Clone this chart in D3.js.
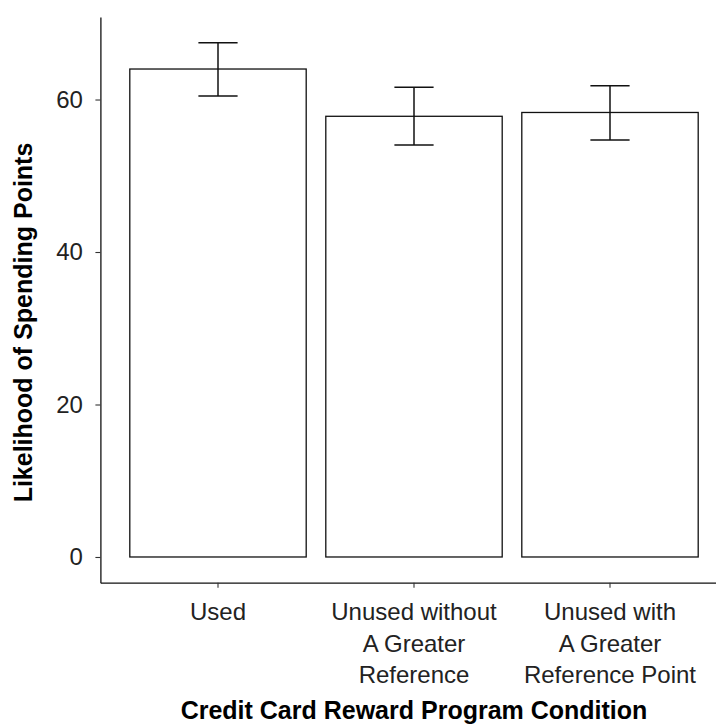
<!DOCTYPE html>
<html>
<head>
<meta charset="utf-8">
<script src="https://cdn.jsdelivr.net/npm/d3@7"></script>
<style>
  html, body { margin: 0; padding: 0; background: #fff; }
  svg { display: block; font-family: "Liberation Sans", Arial, Helvetica, sans-serif; }
</style>
</head>
<body>
<svg id="chart" width="716" height="727"></svg>
<script>
// Conditions (multi-line axis labels) and their mean ratings with error bounds
const categories = ["Used", "Unused without A Greater Reference", "Unused with A Greater Reference Point"];
const categoryLines = [["Used"], ["Unused without", "A Greater", "Reference"], ["Unused with", "A Greater", "Reference Point"]];
const means = [64.0, 57.8, 58.3];
const lowerBounds = [60.45, 54.05, 54.7];
const upperBounds = [67.45, 61.6, 61.8];
const yTicks = [0, 20, 40, 60];
const xTitle = "Credit Card Reward Program Condition";
const yTitle = "Likelihood of Spending Points";

const svg = d3.select("#chart");

// Panel extent (continuous axis padded 5% beyond the data range)
const panel = { left: 100.4, right: 727.6, top: 17, bottom: 582.7 };
const yMax = d3.max(upperBounds);
const pad = yMax * 0.05;

const x = d3.scaleBand()
  .domain(categories)
  .range([panel.left, panel.right])
  .paddingInner(0.1)
  .paddingOuter(0.15);

const y = d3.scaleLinear()
  .domain([-pad, yMax + pad])
  .range([panel.bottom, panel.top]);

const data = categories.map((c, i) => ({
  cat: c, lines: categoryLines[i], mean: means[i], lo: lowerBounds[i], hi: upperBounds[i]
}));

// Bars
svg.append("g").selectAll("rect").data(data).join("rect")
  .attr("x", d => x(d.cat))
  .attr("width", x.bandwidth())
  .attr("y", d => y(d.mean))
  .attr("height", d => y(0) - y(d.mean))
  .attr("fill", "#ffffff")
  .attr("stroke", "#111")
  .attr("stroke-width", 1.3);

// Error bars
const capHalf = x.step() * 0.1;
const eb = svg.append("g").attr("stroke", "#111").attr("stroke-width", 1.5).attr("fill", "none");
data.forEach(d => {
  const cx = x(d.cat) + x.bandwidth() / 2;
  eb.append("line").attr("x1", cx).attr("x2", cx).attr("y1", y(d.lo)).attr("y2", y(d.hi));
  eb.append("line").attr("x1", cx - capHalf).attr("x2", cx + capHalf).attr("y1", y(d.hi)).attr("y2", y(d.hi));
  eb.append("line").attr("x1", cx - capHalf).attr("x2", cx + capHalf).attr("y1", y(d.lo)).attr("y2", y(d.lo));
});

// Y axis
const yAxis = svg.append("g")
  .attr("transform", `translate(${panel.left},0)`)
  .call(d3.axisLeft(y).tickValues(yTicks).tickSize(5).tickPadding(12.5).tickSizeOuter(0));
yAxis.select(".domain").attr("stroke", "#111").attr("stroke-width", 1.3);
yAxis.selectAll(".tick line").attr("stroke", "#333").attr("stroke-width", 1.1);
yAxis.selectAll(".tick text")
  .attr("font-size", 24).attr("fill", "#222")
  .attr("font-family", "Liberation Sans, Arial, sans-serif");

// X axis
const xAxis = svg.append("g")
  .attr("transform", `translate(0,${panel.bottom})`)
  .call(d3.axisBottom(x).tickSize(5).tickSizeOuter(0).tickFormat(""));
xAxis.select(".domain").attr("stroke", "#111").attr("stroke-width", 1.3);
xAxis.selectAll(".tick line").attr("stroke", "#333").attr("stroke-width", 1.1);

// Multi-line category labels
const labels = svg.append("g");
data.forEach(d => {
  const cx = x(d.cat) + x.bandwidth() / 2;
  const t = labels.append("text")
    .attr("x", cx)
    .attr("y", 620)
    .attr("text-anchor", "middle")
    .attr("font-size", 24)
    .attr("fill", "#222");
  d.lines.forEach((ln, k) => {
    t.append("tspan").attr("x", cx).attr("dy", k === 0 ? 0 : 31.5).text(ln);
  });
});

// Axis titles
svg.append("text")
  .attr("x", (panel.left + panel.right) / 2)
  .attr("y", 719)
  .attr("text-anchor", "middle")
  .attr("font-size", 25)
  .attr("font-weight", "bold")
  .attr("fill", "#000")
  .text(xTitle);

svg.append("text")
  .attr("transform", "translate(31.5,322.5) rotate(-90)")
  .attr("text-anchor", "middle")
  .attr("font-size", 25)
  .attr("font-weight", "bold")
  .attr("fill", "#000")
  .text(yTitle);
</script>
</body>
</html>
